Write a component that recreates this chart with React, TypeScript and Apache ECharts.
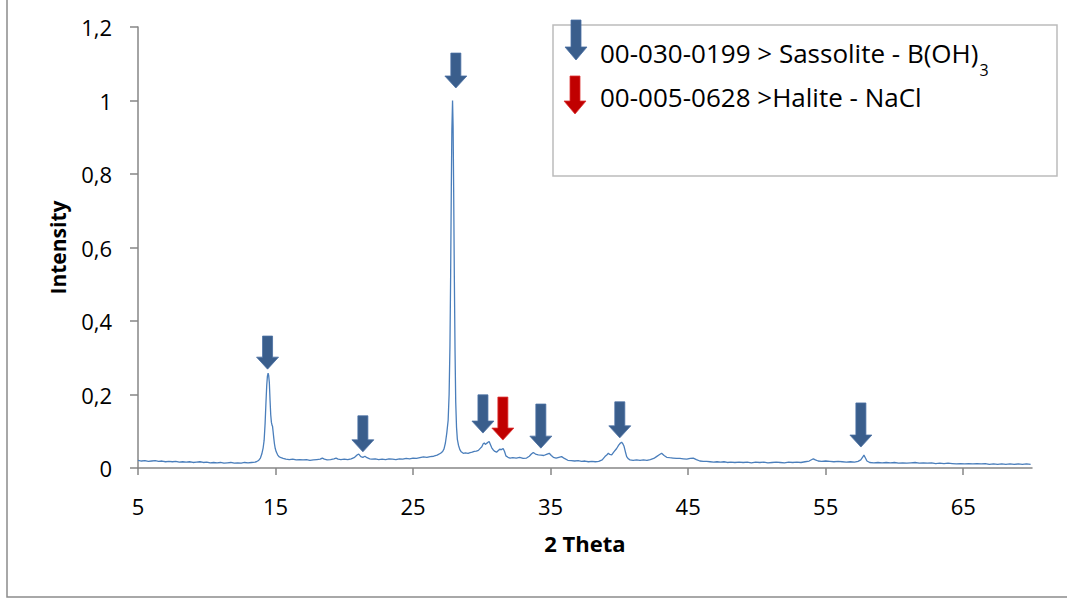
import React, { useEffect, useRef } from 'react';
import * as echarts from 'echarts';

// Diffraction pattern: 2θ positions and normalised intensities
const twoTheta = [
  5.0, 5.25, 5.5, 5.75, 6.0, 6.25, 6.5, 6.75, 7.0, 7.25, 7.5, 7.75, 8.0, 8.25, 8.5, 8.75,
  9.0, 9.25, 9.5, 9.75, 10.0, 10.25, 10.5, 10.75, 11.0, 11.25, 11.5, 11.75, 12.0, 12.25,
  12.5, 12.75, 13.0, 13.25, 13.5,
  13.6, 13.7, 13.8, 13.9, 14.0, 14.1, 14.17, 14.24, 14.3, 14.36, 14.41, 14.46, 14.5, 14.55,
  14.6, 14.65, 14.7, 14.75, 14.78, 14.82, 14.87, 14.92, 14.98, 15.05, 15.15, 15.25, 15.4,
  15.55, 15.75,
  16.0, 16.25, 16.5, 16.75, 17.0, 17.25, 17.5, 17.75, 18.0, 18.25, 18.4, 18.55, 18.75, 19.0,
  19.25, 19.4, 19.55, 19.75, 20.0, 20.25, 20.5, 20.75, 20.95, 21.05, 21.2, 21.35, 21.5, 21.65,
  21.85, 22.0, 22.25, 22.5, 22.75, 23.0, 23.25, 23.5, 23.75, 24.0, 24.25, 24.5, 24.75, 25.0,
  25.25, 25.5, 25.75, 26.0, 26.25, 26.5, 26.75, 27.0, 27.15, 27.25, 27.35, 27.45, 27.55,
  27.62, 27.68, 27.73, 27.78, 27.82, 27.87, 27.91, 27.95, 28.0, 28.05, 28.1, 28.16, 28.22,
  28.3, 28.4, 28.5, 28.65, 28.8, 29.0, 29.15, 29.3, 29.45, 29.6, 29.75, 29.9, 30.0, 30.1,
  30.18, 30.26, 30.35, 30.45, 30.53, 30.62, 30.72, 30.83, 30.95, 31.07, 31.18, 31.3, 31.42,
  31.55, 31.65, 31.75, 31.9, 32.05, 32.25, 32.5, 32.75, 33.0, 33.25, 33.45, 33.6, 33.74,
  33.9, 34.1, 34.3, 34.5, 34.7, 34.9, 35.05, 35.2, 35.4, 35.6, 35.8, 36.0, 36.25, 36.5,
  36.75, 37.0, 37.25, 37.5, 37.75, 38.0, 38.25, 38.5, 38.75, 38.95, 39.1, 39.2, 39.3, 39.44,
  39.6, 39.8, 39.95, 40.08, 40.16, 40.25, 40.33, 40.43, 40.53, 40.65, 40.77, 41.0, 41.25,
  41.5, 41.75, 42.0, 42.25, 42.5, 42.7, 42.9, 43.07, 43.25, 43.44, 43.65, 43.9, 44.15, 44.4,
  44.65, 44.9, 45.15, 45.37, 45.6, 45.85, 46.1, 46.35, 46.6, 46.85, 47.1, 47.35, 47.6, 47.85,
  48.1, 48.4, 48.7, 49.0, 49.3, 49.6, 49.9, 50.2, 50.5, 50.8, 51.1, 51.4, 51.7, 52.0, 52.3,
  52.6, 52.9, 53.2, 53.5, 53.8, 54.0, 54.1, 54.25, 54.45, 54.7, 55.0, 55.3, 55.6, 55.9, 56.2,
  56.5, 56.8, 57.1, 57.35, 57.55, 57.7, 57.78, 57.88, 58.0, 58.2, 58.5, 58.8, 59.1, 59.4,
  59.7, 60.0, 60.3, 60.6, 60.9, 61.2, 61.5, 61.8, 62.1, 62.4, 62.7, 63.0, 63.3, 63.6, 63.9,
  64.2, 64.5, 64.8, 65.1, 65.4, 65.7, 66.0, 66.3, 66.6, 66.9, 67.2, 67.5, 67.8, 68.1, 68.4,
  68.7, 69.0, 69.3, 69.6, 69.9,
];

const intensity = [
  0.021, 0.019, 0.02, 0.018, 0.019, 0.02, 0.018, 0.019, 0.017, 0.018, 0.017, 0.018, 0.016,
  0.017, 0.016, 0.017, 0.015, 0.016, 0.017, 0.015, 0.016, 0.014, 0.015, 0.014, 0.015, 0.013,
  0.014, 0.015, 0.013, 0.014, 0.013, 0.015, 0.014, 0.015, 0.016,
  0.017, 0.019, 0.022, 0.027, 0.038, 0.055, 0.075, 0.12, 0.175, 0.225, 0.25, 0.258, 0.252,
  0.232, 0.185, 0.145, 0.124, 0.116, 0.114, 0.1, 0.082, 0.066, 0.053, 0.044, 0.036, 0.031,
  0.028, 0.026, 0.024,
  0.023, 0.024, 0.022, 0.023, 0.022, 0.023, 0.021, 0.022, 0.023, 0.024, 0.027, 0.024, 0.022,
  0.023, 0.025, 0.027, 0.024, 0.023, 0.024, 0.023, 0.025, 0.029, 0.036, 0.038, 0.031, 0.029,
  0.032, 0.028, 0.025, 0.024, 0.025, 0.023, 0.024, 0.023, 0.025, 0.024, 0.023, 0.025, 0.024,
  0.026, 0.025, 0.027, 0.026, 0.028, 0.03, 0.029, 0.031, 0.032, 0.035, 0.04, 0.045, 0.052,
  0.068, 0.095, 0.13, 0.2, 0.33, 0.52, 0.76, 0.92, 1.0, 0.93, 0.76, 0.52, 0.32, 0.18, 0.11,
  0.078, 0.062, 0.05, 0.044, 0.04, 0.041, 0.04, 0.042, 0.043, 0.045, 0.046, 0.048, 0.054,
  0.058, 0.066, 0.068, 0.064, 0.067, 0.07, 0.072, 0.064, 0.055, 0.049, 0.045, 0.043, 0.047,
  0.051, 0.05, 0.053, 0.045, 0.033, 0.029, 0.027, 0.028, 0.027, 0.029, 0.026, 0.027, 0.032,
  0.038, 0.042, 0.038, 0.036, 0.035, 0.034, 0.037, 0.04, 0.034, 0.029, 0.027, 0.029, 0.031,
  0.026, 0.021, 0.02, 0.019, 0.02, 0.018, 0.019, 0.017, 0.018, 0.017, 0.018, 0.022, 0.031,
  0.036, 0.04, 0.037, 0.036, 0.044, 0.053, 0.062, 0.068, 0.07, 0.066, 0.06, 0.045, 0.031,
  0.025, 0.022, 0.021, 0.022, 0.021, 0.022, 0.021, 0.023, 0.026, 0.031, 0.036, 0.04, 0.034,
  0.029, 0.028, 0.027, 0.026, 0.026, 0.025, 0.024, 0.026, 0.027, 0.023, 0.019, 0.018, 0.018,
  0.017, 0.016, 0.017, 0.016, 0.017, 0.015, 0.016, 0.015, 0.016, 0.015, 0.016, 0.014, 0.016,
  0.015, 0.016, 0.014, 0.015, 0.016, 0.015, 0.014, 0.016, 0.015, 0.016, 0.015, 0.017, 0.019,
  0.023, 0.025, 0.022, 0.019, 0.018, 0.019, 0.018, 0.017, 0.018, 0.017, 0.016, 0.017, 0.016,
  0.018, 0.022, 0.03, 0.035, 0.028, 0.019, 0.015, 0.014, 0.015, 0.014, 0.015, 0.014, 0.015,
  0.013, 0.014, 0.013, 0.014, 0.015, 0.013, 0.014, 0.013, 0.014, 0.012, 0.013, 0.012, 0.013,
  0.012, 0.011, 0.012, 0.011, 0.012, 0.011, 0.012, 0.011, 0.012, 0.01, 0.011, 0.01, 0.011,
  0.01, 0.011, 0.01, 0.011, 0.01, 0.011, 0.01,
];

// Phase markers: [2θ, arrow tip intensity, arrow tail intensity]
const sassoliteMarks = [
  [14.42, 0.269, 0.359],
  [21.35, 0.044, 0.142],
  [28.11, 1.034, 1.129],
  [30.08, 0.095, 0.199],
  [34.29, 0.054, 0.174],
  [40.03, 0.082, 0.18],
  [57.56, 0.057, 0.177],
];
const haliteMarks = [[31.53, 0.076, 0.193]];

const xTickValues = [5, 15, 25, 35, 45, 55, 65];

const legendLabels = ['00-030-0199 > Sassolite - B(OH)', '00-005-0628 >Halite - NaCl'];
const legendSubscript = '3';

const BLUE = '#3a5e8c';
const RED = '#c00000';
const LINE = '#4a7ebb';
const AXIS = '#868686';
const FONT = 'Open Sans';

function arrowPoints(cx: number, top: number, tip: number, shaft: number, head: number, headH: number) {
  return [
    [cx - shaft, top],
    [cx + shaft, top],
    [cx + shaft, tip - headH],
    [cx + head, tip - headH],
    [cx, tip],
    [cx - head, tip - headH],
    [cx - shaft, tip - headH],
  ];
}

function measure(text: string, font: string) {
  const ctx = document.createElement('canvas').getContext('2d');
  if (!ctx) return text.length * 14;
  ctx.font = font;
  return ctx.measureText(text).width;
}

export default function App() {
  const ref = useRef<HTMLDivElement>(null);

  useEffect(() => {
    document.body.style.margin = '0';
    if (!ref.current) return;
    const chart = echarts.init(ref.current, null, { renderer: 'svg' });

    const pattern = twoTheta.map((t, i) => [t, intensity[i]]);
    const markers = [
      ...sassoliteMarks.map((m) => [m[0], m[1], m[2], 0]),
      ...haliteMarks.map((m) => [m[0], m[1], m[2], 1]),
    ];

    const legendFontSize = 26;
    const legendX = 600;
    const line1W = measure(legendLabels[0], `${legendFontSize}px "${FONT}"`);

    chart.setOption({
      animation: false,
      backgroundColor: '#ffffff',
      textStyle: { fontFamily: FONT },
      grid: { left: 138, right: 35, top: 27, bottom: 133, containLabel: false, outerBoundsMode: 'none' },
      xAxis: {
        type: 'value',
        min: 5,
        max: 70,
        name: '2 Theta',
        nameLocation: 'middle',
        nameGap: 64,
        nameTextStyle: { fontFamily: FONT, fontWeight: 'bold', fontSize: 22, color: '#000' },
        axisLine: { show: true, onZero: false, lineStyle: { color: AXIS, width: 1.5 } },
        axisTick: { show: true, length: 7, customValues: xTickValues, lineStyle: { color: AXIS, width: 1.5 } },
        axisLabel: { customValues: xTickValues, margin: 27, fontSize: 22, color: '#000', fontFamily: FONT },
        splitLine: { show: false },
      },
      yAxis: {
        type: 'value',
        min: 0,
        max: 1.2,
        interval: 0.2,
        name: 'Intensity',
        nameLocation: 'middle',
        nameGap: 70,
        nameRotate: 90,
        nameTextStyle: { fontFamily: FONT, fontWeight: 'bold', fontSize: 21, color: '#000' },
        axisLine: { show: true, lineStyle: { color: AXIS, width: 1.5 } },
        axisTick: { show: true, length: 8, lineStyle: { color: AXIS, width: 1.5 } },
        axisLabel: {
          margin: 26,
          fontSize: 22,
          color: '#000',
          fontFamily: FONT,
          formatter: (v: number) => String(Math.round(v * 10) / 10).replace('.', ','),
        },
        splitLine: { show: false },
      },
      series: [
        {
          type: 'line',
          data: pattern,
          showSymbol: false,
          lineStyle: { color: LINE, width: 1.3 },
          z: 2,
        },
        {
          type: 'custom',
          data: markers,
          clip: false,
          z: 3,
          renderItem: (params: any, api: any) => {
            const tip = api.coord([api.value(0), api.value(1)]);
            const top = api.coord([api.value(0), api.value(2)]);
            const color = api.value(3) === 1 ? RED : BLUE;
            return {
              type: 'polygon',
              shape: { points: arrowPoints(tip[0], top[1], tip[1], 5, 11, 12) },
              style: { fill: color, stroke: color === RED ? '#d33' : '#4a70a3', lineWidth: 0.8 },
            };
          },
        },
      ],
      graphic: [
        {
          type: 'rect',
          shape: { x: 7, y: -10, width: 1080, height: 607 },
          style: { fill: 'none', stroke: '#8c8c8c', lineWidth: 1.5 },
          silent: true,
          z: 0,
        },
        {
          type: 'rect',
          shape: { x: 553, y: 25, width: 504, height: 151 },
          style: { fill: '#fff', stroke: '#bcbcbc', lineWidth: 1.5 },
          z: 10,
        },
        {
          type: 'polygon',
          shape: { points: arrowPoints(576, 20, 60, 5, 11, 13) },
          style: { fill: BLUE, stroke: '#4a70a3', lineWidth: 0.8 },
          z: 11,
        },
        {
          type: 'polygon',
          shape: { points: arrowPoints(575, 76, 114, 5, 11, 13) },
          style: { fill: RED, stroke: '#d33', lineWidth: 0.8 },
          z: 11,
        },
        {
          type: 'text',
          x: legendX,
          y: 53,
          z: 11,
          style: {
            text: legendLabels[0],
            fontFamily: FONT,
            fontSize: legendFontSize,
            fill: '#000',
            verticalAlign: 'middle',
            align: 'left',
          },
        },
        {
          type: 'text',
          x: legendX + line1W + 1,
          y: 70,
          z: 11,
          style: {
            text: legendSubscript,
            fontFamily: FONT,
            fontSize: 16,
            fill: '#000',
            verticalAlign: 'middle',
            align: 'left',
          },
        },
        {
          type: 'text',
          x: legendX,
          y: 97,
          z: 11,
          style: {
            text: legendLabels[1],
            fontFamily: FONT,
            fontSize: legendFontSize,
            fill: '#000',
            verticalAlign: 'middle',
            align: 'left',
          },
        },
      ],
    });

    return () => chart.dispose();
  }, []);

  return <div ref={ref} style={{ width: 1067, height: 601 }} />;
}
